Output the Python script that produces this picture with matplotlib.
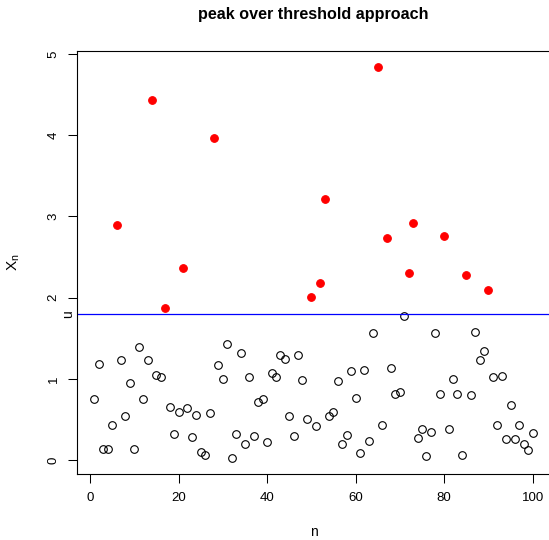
import matplotlib
matplotlib.use('Agg')
import matplotlib.pyplot as plt
import numpy as np

plt.rcParams['font.family'] = ['Liberation Sans', 'DejaVu Sans']
plt.rcParams['mathtext.fontset'] = 'custom'
plt.rcParams['mathtext.rm'] = 'Liberation Sans'
plt.rcParams['mathtext.it'] = 'Liberation Sans:italic'

# observations X_n, n = 1..100
x_n = [0.75, 1.18, 0.14, 0.14, 0.43, 2.89, 1.23, 0.54, 0.95, 0.14,
       1.39, 0.76, 1.23, 4.43, 1.05, 1.03, 1.88, 0.65, 0.33, 0.59,
       2.37, 0.64, 0.29, 0.56, 0.10, 0.06, 0.58, 3.96, 1.17, 1.00,
       1.43, 0.03, 0.32, 1.32, 0.20, 1.02, 0.30, 0.72, 0.75, 0.23,
       1.08, 1.02, 1.30, 1.25, 0.55, 0.30, 1.29, 0.99, 0.51, 2.01,
       0.42, 2.18, 3.22, 0.55, 0.59, 0.98, 0.20, 0.31, 1.10, 0.77,
       0.09, 1.11, 0.24, 1.57, 4.84, 0.43, 2.74, 1.13, 0.81, 0.84,
       1.78, 2.31, 2.92, 0.28, 0.385, 0.05, 0.35, 1.57, 0.81, 2.76,
       0.385, 1.00, 0.815, 0.06, 2.28, 0.80, 1.58, 1.23, 1.34, 2.10,
       1.03, 0.44, 1.04, 0.26, 0.68, 0.26, 0.44, 0.20, 0.13, 0.34]
u = 1.80

n = np.arange(1, len(x_n) + 1)
x = np.array(x_n)
above = x > u

fig = plt.figure(figsize=(5.49, 5.40), dpi=100)
ax = fig.add_axes([0.1401, 0.1231, 0.8621, 0.7819])

ax.plot(n[~above], x[~above], 'o', mfc='none', mec='black', mew=0.8, ms=5.5)
ax.plot(n[above], x[above], 'o', mfc='red', mec='red', mew=0.8, ms=5.5)
ax.axhline(u, color='#0000FF', lw=0.9)

# R style 4% axis extension
ax.set_xlim(1 - 0.04 * 99, 100 + 0.04 * 99)
r = x.max() - x.min()
ax.set_ylim(x.min() - 0.04 * r, x.max() + 0.04 * r)

ax.set_xticks([0, 20, 40, 60, 80, 100])
ax.set_yticks([0, 1, 2, 3, 4, 5])
ax.tick_params(direction='out', length=6.5, width=0.75, labelsize=9.5, color='black')
ax.tick_params(axis='x', pad=7)
ax.tick_params(axis='y', pad=6)
for lab in ax.get_yticklabels():
    lab.set_rotation(90)
    lab.set_va('center')
for s in ax.spines.values():
    s.set_linewidth(0.8)

ax.text(-0.004, u, 'u', transform=ax.get_yaxis_transform(), rotation=90,
        ha='right', va='center', fontsize=10)

fig.text(313.5 / 549, 1 - 14 / 540, 'peak over threshold approach',
         ha='center', va='center', fontsize=11.6, fontweight='bold')
fig.text(313.5 / 549, 1 - 532 / 540, 'n', ha='center', va='center', fontsize=10)
fig.text(14 / 549, 1 - 262 / 540, r'$\mathregular{X_n}$', ha='center', va='center',
         rotation=90, fontsize=11)

fig.savefig('out.png', dpi=100)
